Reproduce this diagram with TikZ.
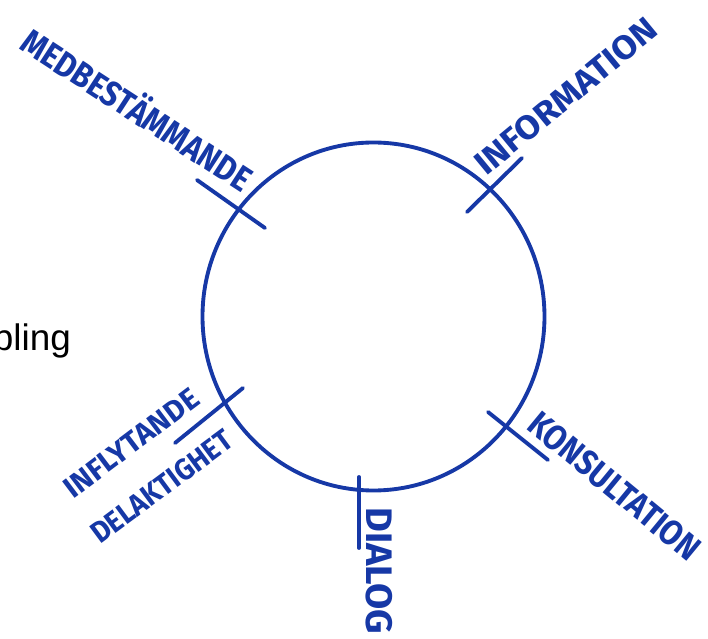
\documentclass[tikz,border=0pt]{standalone}
\usepackage{fontspec}
\setsansfont{Fira Sans}
\newfontfamily\slidefont{Liberation Sans}
\usetikzlibrary{calc}
\definecolor{pen}{RGB}{22,56,166}
\tikzset{
  ring/.style={draw=pen,line width=2.2pt},
  cross/.style={draw=pen,line width=2.2pt,line cap=round},
  word/.style={text=pen,inner sep=0pt,anchor=base west,font=\sffamily\bfseries\fontsize{#1}{#1}\selectfont},
  word/.default=17,
  slide/.style={text=black,inner sep=0pt,anchor=base west,font=\slidefont\fontsize{21}{21}\selectfont},
}

\begin{document}
\begin{tikzpicture}
  \useasboundingbox (0,0) rectangle (14.16,12.78);

  % the ring
  \coordinate (ctr) at (7.47,6.45);
  \draw[ring] (ctr) ellipse [x radius=3.42,y radius=3.48];

  % cross marks on the ring
  \coordinate (med-a)  at (3.94,9.18);  \coordinate (med-b)  at (5.30,8.22);
  \coordinate (inf-a)  at (9.34,8.54);  \coordinate (inf-b)  at (10.44,9.62);
  \coordinate (kon-a)  at (9.76,4.54);  \coordinate (kon-b)  at (10.96,3.58);
  \coordinate (dia-a)  at (7.18,3.24);  \coordinate (dia-b)  at (7.18,1.82);
  \coordinate (infl-a) at (3.50,3.92);  \coordinate (infl-b) at (4.86,5.02);
  \draw[cross] (med-a)  -- (med-b);
  \draw[cross] (inf-a)  -- (inf-b);
  \draw[cross] (kon-a)  -- (kon-b);
  \draw[cross] (dia-a)  -- (dia-b);
  \draw[cross] (infl-a) -- (infl-b);

  % words along the marks
  \node[word=20,rotate=-33,xscale=0.87]   (med)  at (0.36,11.82) {MEDBESTÄMMANDE};
  \node[word=19,rotate=39.5,xscale=1.08]  (inf)  at (9.72,9.24)  {INFORMATION};
  \node[word=20,rotate=-39.5,xscale=0.88] (kon)  at (10.50,4.22) {KONSULTATION};
  \node[word=21,rotate=-90,xscale=1.03]   (dia)  at (7.34,2.64)  {DIALOG};
  \node[word,rotate=37]                   (infl) at (1.46,2.78)  {INFLYTANDE};
  \node[word,rotate=36.5,xscale=0.92]     (dela) at (2.00,1.88)  {DELAKTIGHET};

  \node[slide] (pling) at (-0.15,5.76) {pling};

\end{tikzpicture}
\end{document}
